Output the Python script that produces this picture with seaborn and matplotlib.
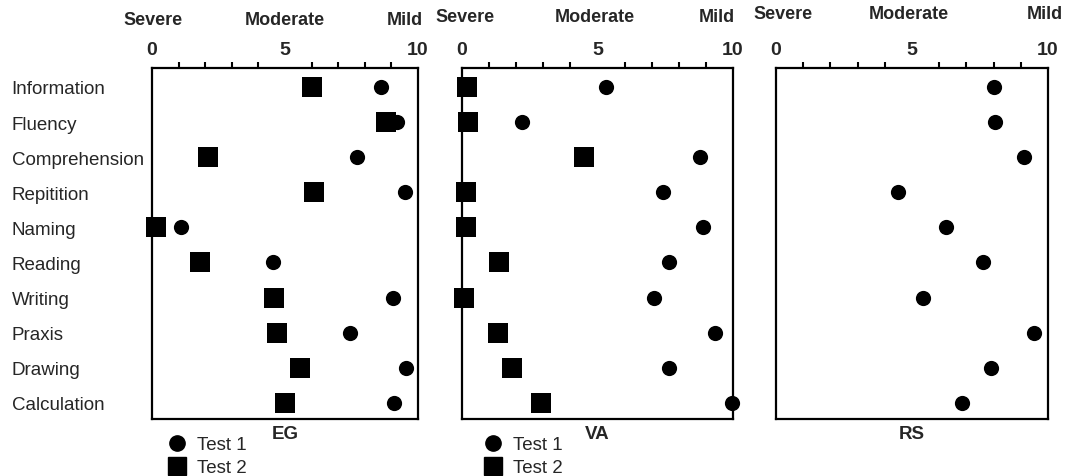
import numpy as np
import pandas as pd
import matplotlib
matplotlib.use("Agg")
import matplotlib.pyplot as plt
import matplotlib.transforms as mtransforms
from matplotlib.lines import Line2D
import seaborn as sns

categories = ["Information", "Fluency", "Comprehension", "Repitition", "Naming",
              "Reading", "Writing", "Praxis", "Drawing", "Calculation"]
eg_test1 = [8.6, 9.2, 7.7, 9.5, 1.1, 4.55, 9.05, 7.45, 9.55, 9.1]
eg_test2 = [6.0, 8.8, 2.1, 6.1, 0.15, 1.8, 4.6, 4.7, 5.55, 5.0]
va_test1 = [5.3, 2.2, 8.8, 7.4, 8.9, 7.65, 7.1, 9.35, 7.65, 9.95]
va_test2 = [0.18, 0.22, 4.5, 0.15, 0.15, 1.37, 0.07, 1.33, 1.85, 2.9]
rs_test1 = [8.0, 8.05, 9.1, 4.5, 6.25, 7.6, 5.4, 9.5, 7.9, 6.85]
panel_names = ["EG", "VA", "RS"]
tick_values = [0, 5, 10]
severity_labels = ["Severe", "Moderate", "Mild"]
legend_labels = ["Test 1", "Test 2"]

sns.set_style("white")
plt.rcParams["font.family"] = ["Liberation Sans", "DejaVu Sans"]

W, H = 1077, 477
fig = plt.figure(figsize=(W / 100, H / 100), dpi=100)

def frac(px_left, px_right, px_top=69, px_bottom=420):
    return [px_left / W, 1 - px_bottom / H, (px_right - px_left) / W, (px_bottom - px_top) / H]

axes_px = [(152, 418), (462, 733), (776, 1048)]
sev_x = [[0.05, 5.0, 9.5], [0.1, 4.9, 9.4], [0.25, 4.9, 9.9]]
sev_y = [1.137, 1.148, 1.155]
panels = [
    (eg_test1, eg_test2),
    (va_test1, va_test2),
    (rs_test1, None),
]

ypos = np.arange(len(categories))
for i, ((l, r), (t1, t2)) in enumerate(zip(axes_px, panels)):
    ax = fig.add_axes(frac(l, r))
    rows = [pd.DataFrame({"score": t1, "y": ypos, "test": legend_labels[0]})]
    if t2 is not None:
        rows.append(pd.DataFrame({"score": t2, "y": ypos, "test": legend_labels[1]}))
    df = pd.concat(rows, ignore_index=True)
    sns.scatterplot(data=df[df.test == legend_labels[0]], x="score", y="y", ax=ax,
                    marker="o", s=120, color="black", edgecolor="black", linewidth=0,
                    clip_on=False, legend=False, zorder=3)
    if t2 is not None:
        sns.scatterplot(data=df[df.test == legend_labels[1]], x="score", y="y", ax=ax,
                        marker="s", s=190, color="black", edgecolor="black", linewidth=0,
                        clip_on=False, legend=False, zorder=3)
    ax.set_xlim(0, 10)
    ax.set_ylim(len(categories) - 0.54, -0.54)
    ax.set_xlabel("")
    ax.set_ylabel("")
    for sp in ax.spines.values():
        sp.set_linewidth(1.6)
        sp.set_color("black")
    ax.xaxis.tick_top()
    ax.set_xticks(tick_values)
    ax.set_xticklabels([str(v) for v in tick_values], fontsize=14, fontweight="bold")
    ax.set_xticks(np.arange(1, 10), minor=True)
    ax.tick_params(axis="x", which="both", direction="out", length=4.5, width=1.5,
                   color="black", pad=7)
    ax.tick_params(axis="x", which="major", length=0)
    if i == 0:
        ax.set_yticks(ypos)
        ax.set_yticklabels(categories, fontsize=13.5, ha="left")
        ax.tick_params(axis="y", length=0, pad=101)
    else:
        ax.set_yticks([])
    trans = mtransforms.blended_transform_factory(ax.transData, ax.transAxes)
    for sx, lab in zip(sev_x[i], severity_labels):
        ax.text(sx, sev_y[i], lab, transform=trans, ha="center", va="center",
                fontsize=13, fontweight="bold")
    ax.text(5, -0.04, panel_names[i], transform=trans, ha="center", va="center",
            fontsize=13.5, fontweight="bold")
    if t2 is not None:
        handles = [
            Line2D([], [], marker="o", color="black", linestyle="", markersize=11),
            Line2D([], [], marker="s", color="black", linestyle="", markersize=13.5),
        ]
        lx = [158, 474][i]
        ax.legend(handles, legend_labels, loc="upper left",
                  bbox_to_anchor=(lx / W, 1 - 428 / H), bbox_transform=fig.transFigure,
                  frameon=False, borderpad=0, handlelength=1.0, handletextpad=0.6,
                  labelspacing=0.3, fontsize=13.5)

fig.savefig("out.png", dpi=100)
